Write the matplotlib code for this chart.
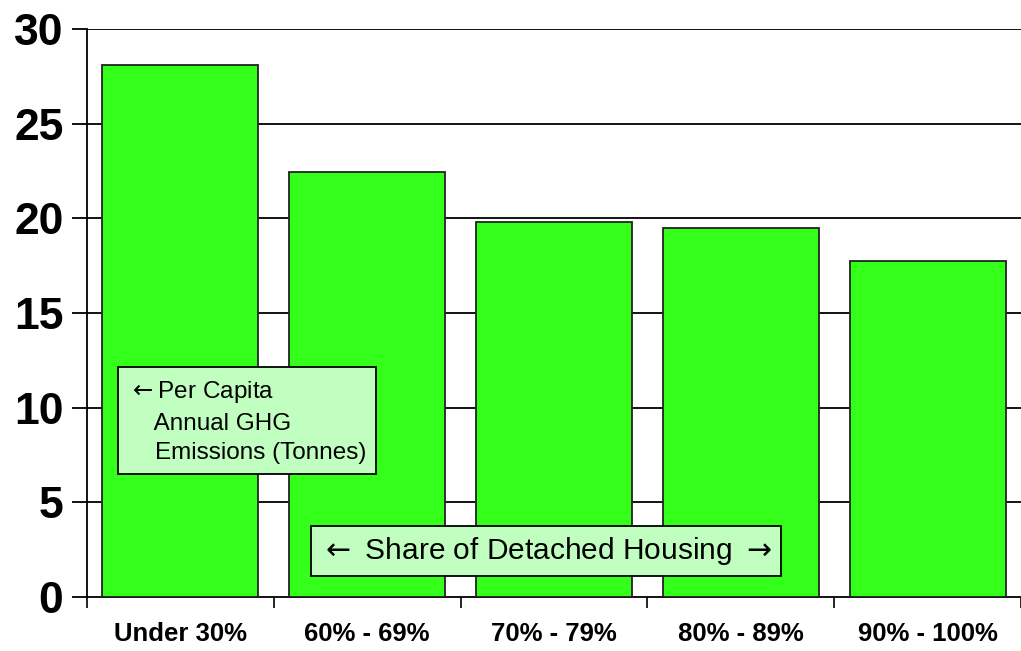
import numpy as np
import matplotlib.pyplot as plt

plt.rcParams['font.family'] = ['Liberation Sans', 'DejaVu Sans']
plt.rcParams['mathtext.fontset'] = 'dejavusans'

# data
categories = ['Under 30%', '60% - 69%', '70% - 79%', '80% - 89%', '90% - 100%']
emissions = [28.1, 22.45, 19.8, 19.5, 17.75]
yticks = [0, 5, 10, 15, 20, 25, 30]

fig = plt.figure(figsize=(10.21, 6.51), dpi=100)
ax = fig.add_axes([0.0852, 0.083, 0.9148, 0.8725])

x = np.arange(len(categories))
ax.bar(x, emissions, width=0.835, color='#33ff1a', edgecolor='#222222', linewidth=1.3, zorder=3)

ax.set_xlim(-0.5, len(categories) - 0.5)
ax.set_ylim(0, 30)
ax.set_yticks(yticks)
ax.set_yticklabels([str(t) for t in yticks], fontsize=32, fontweight='bold')
for t in yticks[1:]:
    ax.axhline(t, color='black', linewidth=1.3, zorder=1)

# category labels between tick marks
ax.set_xticks(x)
ax.set_xticklabels(categories, fontsize=18.5, fontweight='bold')
ax.tick_params(axis='x', length=0, pad=18)
ax.set_xticks(np.arange(-0.5, len(categories), 1.0), minor=True)
ax.tick_params(axis='x', which='minor', length=8, width=1.2, direction='out')
ax.tick_params(axis='y', length=11, width=1.3, direction='out', pad=6)

for s in ['top', 'right']:
    ax.spines[s].set_visible(False)
ax.spines['left'].set_linewidth(1.3)
ax.spines['bottom'].set_linewidth(1.3)

box = dict(boxstyle='square,pad=0.4', facecolor='#c0ffc0', edgecolor='black', linewidth=1.3)
fig.text(0.125, 0.352, r'$\leftarrow$' + 'Per Capita\n    Annual GHG\n    Emissions (Tonnes)',
         fontsize=17.5, va='center', ha='left', linespacing=1.45, bbox=box, zorder=5)
fig.text(0.535, 0.1536, r'$\leftarrow$ Share of Detached Housing $\rightarrow$',
         fontsize=21.5, va='center', ha='center',
         bbox=dict(boxstyle='square,pad=0.3', facecolor='#c0ffc0', edgecolor='black', linewidth=1.3), zorder=5)

fig.savefig('out.png', dpi=100)
